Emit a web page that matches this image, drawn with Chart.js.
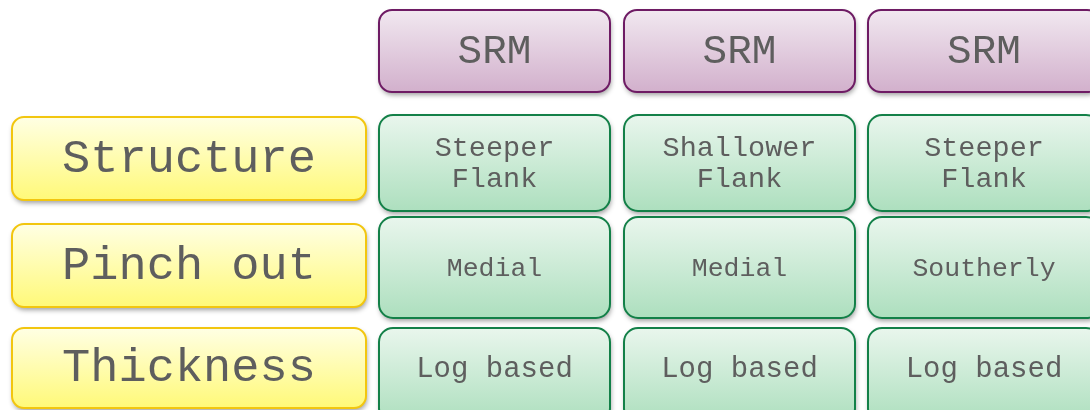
<!DOCTYPE html>
<html>
<head>
<meta charset="utf-8">
<script src="https://cdn.jsdelivr.net/npm/chart.js@4.4.0/dist/chart.umd.min.js"></script>
<style>
    html, body { margin: 0; padding: 0; background: #fff; }
    #wrap { width: 1090px; height: 410px; }
</style>
</head>
<body>
<div id="wrap"><canvas id="c"></canvas></div>
<script>
//表格内容
const colHeads = ['SRM', 'SRM', 'SRM']
const rowHeads = ['Structure', 'Pinch out', 'Thickness']
const structureRow = ['Steeper\nFlank', 'Shallower\nFlank', 'Steeper\nFlank']
const pinchRow = ['Medial', 'Medial', 'Southerly']
const thicknessRow = ['Log based', 'Log based', 'Log based']
const cells = [structureRow, pinchRow, thicknessRow]

//布局 (坐标轴单位)
const labelCol = [12, 366]
const cols = [[379, 610], [624, 855], [868, 1100]]
const headRow = [10, 92]
const labelRows = [[117, 200], [224, 307], [328, 408]]
const cellRows = [[115, 211], [217, 318], [328, 422]]
const cellFont = [28.5, 26.5, 29]

const styles = {
    head: { top: '#f1e8f0', bottom: '#d2b0cc', border: '#6e1b64', r: 13 },
    label: { top: '#ffffe4', bottom: '#fff978', border: '#f2c60f', r: 12 },
    cell: { top: '#e9f6ed', bottom: '#addfbe', border: '#138048', r: 14 }
}

function drawBox(chart, xr, yr, st, text, size) {
    const ctx = chart.ctx
    const { x, y } = chart.scales
    const x0 = x.getPixelForValue(xr[0])
    const x1 = x.getPixelForValue(xr[1])
    const y0 = y.getPixelForValue(yr[0])
    const y1 = y.getPixelForValue(yr[1])
    ctx.save()
    const g = ctx.createLinearGradient(0, y0, 0, y1)
    g.addColorStop(0, st.top)
    g.addColorStop(1, st.bottom)
    ctx.beginPath()
    ctx.roundRect(x0, y0, x1 - x0, y1 - y0, st.r)
    ctx.shadowColor = 'rgba(0,0,0,0.38)'
    ctx.shadowBlur = 5
    ctx.shadowOffsetX = 1
    ctx.shadowOffsetY = 3
    ctx.fillStyle = g
    ctx.fill()
    ctx.shadowColor = 'transparent'
    ctx.lineWidth = 2
    ctx.strokeStyle = st.border
    ctx.stroke()
    //文字
    ctx.fillStyle = '#5e5e5e'
    ctx.font = `${size}px "Liberation Mono", "Courier New", monospace`
    ctx.textAlign = 'center'
    ctx.textBaseline = 'middle'
    const lines = text.split('\n')
    const lh = size * 1.1
    const cx = (x0 + x1) / 2
    const cy = (y0 + Math.min(y1, chart.chartArea.bottom - 2)) / 2
    const top = cy - lh * (lines.length - 1) / 2
    lines.forEach((t, i) => ctx.fillText(t, cx, top + i * lh + 1))
    ctx.restore()
}

const gridPlugin = {
    id: 'grid',
    afterDraw(chart) {
        //表头
        for (let c = 0; c < colHeads.length; c++) {
            drawBox(chart, cols[c], headRow, styles.head, colHeads[c], 41)
        }
        //行标题 + 单元格
        for (let r = 0; r < rowHeads.length; r++) {
            drawBox(chart, labelCol, labelRows[r], styles.label, rowHeads[r], 47)
            for (let c = 0; c < cols.length; c++) {
                drawBox(chart, cols[c], cellRows[r], styles.cell, cells[r][c], cellFont[r])
            }
        }
    }
}

const config = {
    type: 'scatter',
    data: { datasets: [] },
    options: {
        animation: false,
        responsive: true,
        maintainAspectRatio: false,
        layout: { padding: 0 },
        plugins: {
            legend: { display: false },
            tooltip: { enabled: false }
        },
        scales: {
            x: { type: 'linear', min: 0, max: 1090, display: false },
            y: { type: 'linear', min: 0, max: 410, reverse: true, display: false }
        }
    },
    plugins: [gridPlugin]
}

let myChart = new Chart(document.getElementById('c'), config)
</script>
</body>
</html>
